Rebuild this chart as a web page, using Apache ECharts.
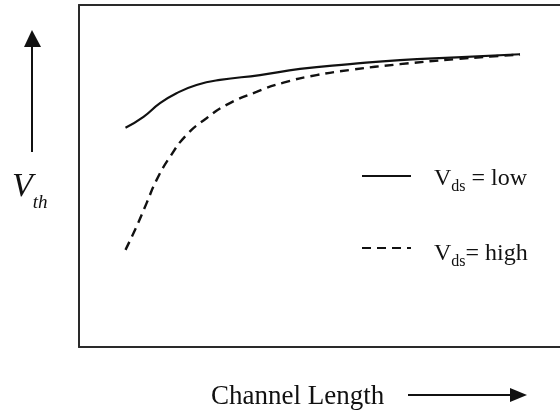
<!DOCTYPE html>
<html>
<head>
<meta charset="utf-8">
<script src="https://cdn.jsdelivr.net/npm/echarts@6/dist/echarts.min.js"></script>
<style>
  html, body { margin: 0; padding: 0; background: #fff; }
  #chart { width: 560px; height: 416px; }
</style>
</head>
<body>
<div id="chart"></div>
<script>
// Threshold voltage vs. channel length (arbitrary units)
const lengthLow  = [9.3, 12.9, 16.2, 19.5, 23.5, 28.2, 36.2, 44.2, 54.2, 64.2, 75.5, 88.2];
const vthLow     = [64.1, 67.3, 71.3, 74.2, 76.6, 78.1, 79.5, 81.3, 82.7, 83.9, 84.7, 85.6];
const lengthHigh = [9.3, 11.5, 13.5, 15.5, 18.2, 21.5, 25.5, 29.5, 35.5, 40.9, 47.5, 54.2, 64.2, 75.6, 82.2, 88.2];
const vthHigh    = [28.4, 35.2, 42.0, 48.8, 55.6, 62.0, 66.9, 70.8, 74.6, 77.3, 79.5, 81.0, 82.7, 84.2, 84.9, 85.5];
const seriesNames = ['Vds = low', 'Vds = high'];
const legendTexts = ['{v|V}{s|ds}{v| = low}', '{v|V}{s|ds}{v|= high}'];

const serif = '"Liberation Serif", "DejaVu Serif", serif';
const ink = '#111';
const frame = { show: true, lineStyle: { color: '#2a2a2a', width: 2 } };
const bare = { axisTick: { show: false }, axisLabel: { show: false }, splitLine: { show: false } };

function pairs(xs, ys) { return xs.map((x, i) => [x, ys[i]]); }

// one legend block per series so each row can sit on its own baseline
function legendFor(i, top, padTop) {
  return {
    orient: 'vertical',
    left: 356, top: top,
    itemWidth: 49, itemHeight: 14,
    itemStyle: { opacity: 0 },
    data: [seriesNames[i]],
    formatter: function () { return legendTexts[i]; },
    textStyle: {
      padding: [padTop, 0, 0, 18],
      rich: {
        v: { fontFamily: serif, fontSize: 24, color: ink, lineHeight: 26, verticalAlign: 'bottom' },
        s: { fontFamily: serif, fontSize: 16, color: ink, lineHeight: 26, verticalAlign: 'bottom', padding: [0, 0, -4, 0] }
      }
    }
  };
}

const chart = echarts.init(document.getElementById('chart'), null, { renderer: 'canvas' });

chart.setOption({
  animation: false,
  backgroundColor: '#fff',
  grid: { left: 79, top: 5, right: 0, bottom: 69, show: false },
  xAxis: [
    Object.assign({ type: 'value', min: 0, max: 96.2, position: 'bottom', axisLine: frame }, bare),
    Object.assign({ type: 'value', min: 0, max: 96.2, position: 'top', axisLine: frame }, bare)
  ],
  yAxis: Object.assign({ type: 'value', min: 0, max: 100, position: 'left', axisLine: frame }, bare),
  legend: [legendFor(0, 162, 4), legendFor(1, 237, 10)],
  series: [
    {
      name: seriesNames[0], type: 'line', smooth: true, symbol: 'none',
      lineStyle: { color: ink, width: 2.2, type: 'solid' },
      itemStyle: { color: ink },
      data: pairs(lengthLow, vthLow)
    },
    {
      name: seriesNames[1], type: 'line', smooth: true, symbol: 'none',
      lineStyle: { color: ink, width: 2.4, type: [9, 6] },
      itemStyle: { color: ink },
      data: pairs(lengthHigh, vthHigh)
    }
  ],
  graphic: [
    // y-axis title with upward arrow
    { type: 'line', shape: { x1: 32, y1: 152, x2: 32, y2: 44 }, style: { stroke: ink, lineWidth: 2 } },
    { type: 'polygon', shape: { points: [[32, 30], [24, 47], [41, 47]] }, style: { fill: ink } },
    {
      type: 'text', left: 12, top: 170,
      style: {
        text: '{v|V}{s|th}',
        rich: {
          v: { fontFamily: serif, fontStyle: 'italic', fontSize: 34, fill: ink, lineHeight: 36, verticalAlign: 'bottom' },
          s: { fontFamily: serif, fontStyle: 'italic', fontSize: 19, fill: ink, lineHeight: 36, verticalAlign: 'bottom', padding: [0, 0, -8, 0] }
        }
      }
    },
    // x-axis title with rightward arrow
    {
      type: 'text', left: 211, top: 383,
      style: { text: 'Channel Length', fontFamily: serif, fontSize: 27, fill: ink }
    },
    { type: 'line', shape: { x1: 408, y1: 395, x2: 512, y2: 395 }, style: { stroke: ink, lineWidth: 2 } },
    { type: 'polygon', shape: { points: [[527, 395], [510, 388], [510, 402]] }, style: { fill: ink } }
  ]
});
</script>
</body>
</html>
